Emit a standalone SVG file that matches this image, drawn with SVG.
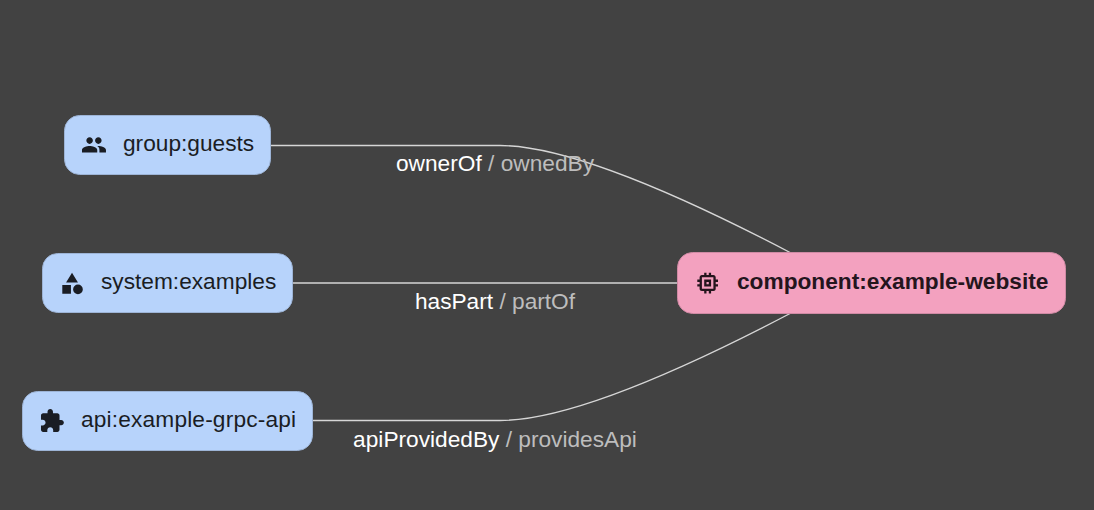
<svg xmlns="http://www.w3.org/2000/svg" width="1094" height="510" viewBox="0 0 1094 510">
<style>
.bg{fill:#424242}
.n{fill:#b7d3fb;stroke:#9db4d6;stroke-width:1}
.p{fill:#f3a1bf;stroke:#cf8aa4;stroke-width:1}
.t{font-family:"Liberation Sans",Arial,sans-serif;font-size:22.700px;fill:#1a1d24}
.b{font-weight:bold;fill:#24151d}
.e{fill:none;stroke:#d6d6d6;stroke-width:1.400}
.l{font-family:"Liberation Sans",Arial,sans-serif;font-size:22.700px;text-anchor:middle;fill:#fff}
.d{fill:#bdbdbd}
.i{fill:#1a1d24}
</style>
<rect class="bg" width="1094" height="510"/>
<g id="connectors">
<path class="e" d="M271 145.500H500Q586 145.500 791 253"/>
<path class="e" d="M293 283H677"/>
<path class="e" d="M313 420.500H500Q586 420.500 791 313"/>
<text class="l" x="495" y="171">ownerOf<tspan class="d"> / ownedBy</tspan></text>
<text class="l" x="495" y="309">hasPart<tspan class="d"> / partOf</tspan></text>
<text class="l" x="495" y="447">apiProvidedBy<tspan class="d"> / providesApi</tspan></text>
</g>
<g id="node-group">
<rect class="n" x="64.500" y="115.500" width="206" height="59" rx="15"/>
<path class="i" transform="translate(80.900 131.900) scale(1.090)" d="M16 11c1.660 0 2.990-1.340 2.990-3S17.660 5 16 5c-1.660 0-3 1.340-3 3s1.340 3 3 3zm-8 0c1.660 0 2.990-1.340 2.990-3S9.660 5 8 5C6.340 5 5 6.340 5 8s1.340 3 3 3zm0 2c-2.330 0-7 1.170-7 3.500V19h14v-2.500c0-2.330-4.670-3.500-7-3.500zm8 0c-.290 0-.620.020-.970.050 1.160.840 1.970 1.970 1.970 3.450V19h6v-2.500c0-2.330-4.670-3.500-7-3.500z"/>
<text class="t" x="123" y="151">group:guests</text>
</g>
<g id="node-system">
<rect class="n" x="42.500" y="253.500" width="250" height="59" rx="15"/>
<path class="i" transform="translate(59.060 270.500) scale(1.080)" d="M12 2l-5.500 9h11zM13 17.500a4.500 4.500 0 1 0 9 0a4.500 4.500 0 1 0-9 0zM3 13.500h8v8H3z"/>
<text class="t" x="101" y="289">system:examples</text>
</g>
<g id="node-api">
<rect class="n" x="22.500" y="391.500" width="290" height="59" rx="15"/>
<path class="i" transform="translate(38.800 407.900) scale(1.090)" d="M20.500 11H19V7c0-1.100-.9-2-2-2h-4V3.500C13 2.120 11.880 1 10.500 1S8 2.120 8 3.500V5H4c-1.100 0-1.990.9-1.990 2v3.800H3.500c1.490 0 2.700 1.210 2.700 2.700s-1.210 2.700-2.700 2.700H2V20c0 1.100.9 2 2 2h3.800v-1.500c0-1.490 1.210-2.700 2.700-2.700 1.490 0 2.700 1.210 2.700 2.700V22H17c1.100 0 2-.9 2-2v-4h1.500c1.380 0 2.500-1.120 2.500-2.500S21.880 11 20.500 11z"/>
<text class="t" x="81" y="427" textLength="215">api:example-grpc-api</text>
</g>
<g id="node-component">
<rect class="p" x="677.500" y="252.500" width="388" height="61" rx="15"/>
<path fill="#24151d" transform="translate(693.850 269.250) scale(1.150)" d="M15 9H9v6h6V9zm-2 4h-2v-2h2v2zm8-2V9h-2V7c0-1.100-.9-2-2-2h-2V3h-2v2h-2V3H9v2H7c-1.100 0-2 .9-2 2v2H3v2h2v2H3v2h2v2c0 1.100.9 2 2 2h2v2h2v-2h2v2h2v-2h2c1.100 0 2-.9 2-2v-2h2v-2h-2v-2h2zm-4 6H7V7h10v10z"/>
<text class="t b" x="737" y="289">component:example-website</text>
</g>
</svg>
